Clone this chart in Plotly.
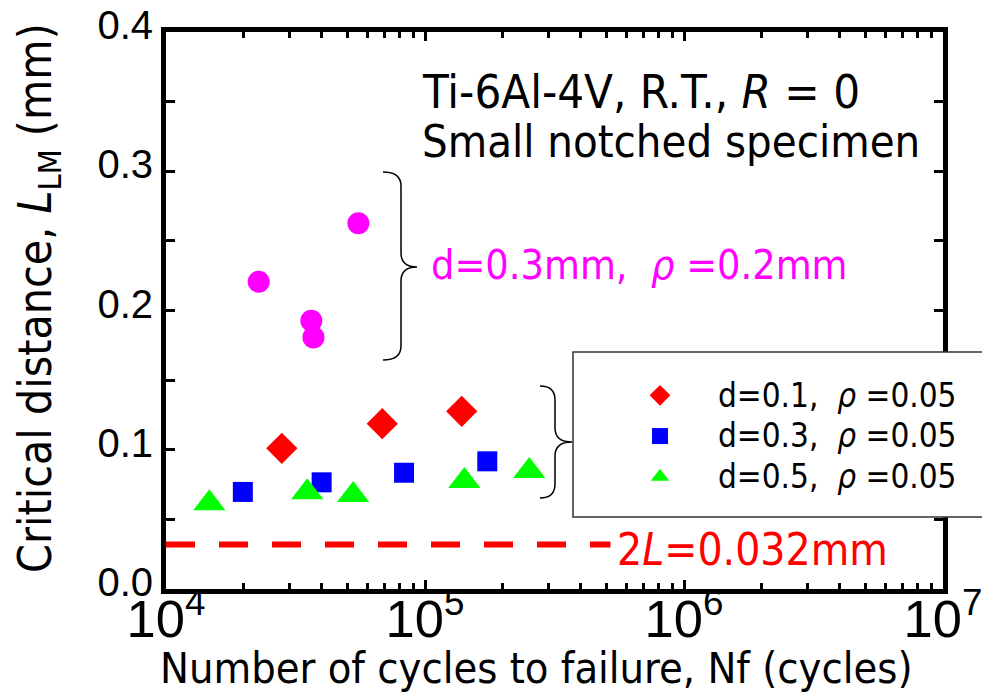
import plotly.graph_objects as go

# ---------------- data ----------------
N_d01 = [28000, 68400, 138600]
L_d01 = [0.101, 0.1187, 0.1276]

N_d03 = [19800, 39900, 83000, 174000]
L_d03 = [0.0697, 0.0766, 0.0835, 0.0917]

N_d05 = [14700, 35100, 52800, 141900, 252700]
L_d05 = [0.0615, 0.0694, 0.0675, 0.0776, 0.0847]

N_rho02 = [22800, 36400, 37100, 55300]
L_rho02 = [0.2207, 0.1927, 0.1807, 0.2626]

N_2L = [1e4, 5.2e5]
L_2L = [0.032, 0.032]

legend_names = ["d=0.1,\u00a0\u00a0<i>ρ</i>\u00a0=0.05",
                "d=0.3,\u00a0\u00a0<i>ρ</i>\u00a0=0.05",
                "d=0.5,\u00a0\u00a0<i>ρ</i>\u00a0=0.05"]

W, H = 982, 694
ML, MR, MT, MB = 166, 39, 32, 105
PW, PH = W - ML - MR, H - MT - MB

def px(x):
    return (x - ML) / PW

def py(y):
    return (H - MB - y) / PH

FONT = "DejaVu Sans Condensed, Liberation Sans Narrow, sans-serif"
REG = "Liberation Sans, Arial, sans-serif"

fig = go.Figure()

fig.add_trace(go.Scatter(x=N_2L, y=L_2L, mode="lines", showlegend=False,
                         line=dict(color="#ff0000", width=6, dash="29px,24px")))

fig.add_trace(go.Scatter(x=N_rho02, y=L_rho02, mode="markers", showlegend=False,
                         marker=dict(symbol="circle", size=22, color="#ff00ff", line=dict(width=0))))

fig.add_trace(go.Scatter(x=N_d01, y=L_d01, mode="markers", name=legend_names[0],
                         marker=dict(symbol="diamond", size=24, color="#ff0000", line=dict(width=0))))
fig.add_trace(go.Scatter(x=N_d03, y=L_d03, mode="markers", name=legend_names[1],
                         marker=dict(symbol="square", size=20, color="#0000ff", line=dict(width=0))))
fig.add_trace(go.Scatter(x=N_d05, y=L_d05, mode="markers", name=legend_names[2],
                         marker=dict(symbol="triangle-up", size=28, color="#00ff00", line=dict(width=0))))

def brace(x0, xs, xt, ytop, ymid, ybot, r=14):
    pts = [
        f"M {px(x0)},{py(ytop)}",
        f"Q {px(xs)},{py(ytop)} {px(xs)},{py(ytop + r)}",
        f"L {px(xs)},{py(ymid - r)}",
        f"Q {px(xs)},{py(ymid)} {px(xt)},{py(ymid)}",
        f"Q {px(xs)},{py(ymid)} {px(xs)},{py(ymid + r)}",
        f"L {px(xs)},{py(ybot - r)}",
        f"Q {px(xs)},{py(ybot)} {px(x0)},{py(ybot)}",
    ]
    return " ".join(pts)

shapes = [
    dict(type="path", xref="paper", yref="paper", path=brace(383, 401, 417, 172, 267, 360),
         line=dict(color="black", width=1.5)),
    dict(type="path", xref="paper", yref="paper", path=brace(540, 555, 572, 386, 442, 498),
         line=dict(color="black", width=1.5)),
    dict(type="rect", xref="paper", yref="paper", x0=px(573), x1=px(995), y0=py(352), y1=py(517),
         fillcolor="white", line=dict(color="#333333", width=1.5), layer="above"),
]

annotations = [
    dict(xref="paper", yref="paper", x=px(420), y=py(92), xanchor="left", yanchor="middle",
         text="Ti-6Al-4V, R.T., <i>R</i> = 0", showarrow=False,
         font=dict(family=FONT, size=47, color="black")),
    dict(xref="paper", yref="paper", x=px(420), y=py(141), xanchor="left", yanchor="middle",
         text="Small notched specimen", showarrow=False,
         font=dict(family=FONT, size=45, color="black")),
    dict(xref="paper", yref="paper", x=px(429), y=py(265), xanchor="left", yanchor="middle",
         text="d=0.3mm,\u00a0\u00a0<i>ρ</i>\u00a0=0.2mm", showarrow=False,
         font=dict(family=FONT, size=41, color="#ff00ff")),
    dict(xref="paper", yref="paper", x=px(615), y=py(549), xanchor="left", yanchor="middle",
         text="2<i>L</i>=0.032mm", showarrow=False,
         font=dict(family=FONT, size=44, color="#ff0000")),
    # axis titles
    dict(xref="paper", yref="paper", x=px(536), y=py(668), xanchor="center", yanchor="middle",
         text="Number of cycles to failure, Nf (cycles)", showarrow=False,
         font=dict(family=FONT, size=43, color="black")),
    dict(xref="paper", yref="paper", x=px(38), y=py(298), xanchor="center", yanchor="middle",
         text="Critical distance, <i>L</i><sub>LM</sub> (mm)", showarrow=False, textangle=-90,
         font=dict(family=FONT, size=46, color="black")),
]

legend_labels_font = 33

fig.update_layout(
    width=W, height=H,
    margin=dict(l=ML, r=MR, t=MT, b=MB, autoexpand=False),
    paper_bgcolor="white", plot_bgcolor="white",
    shapes=shapes, annotations=annotations,
    legend=dict(x=px(602), y=py(370), xanchor="left", yanchor="top",
                bgcolor="rgba(0,0,0,0)", borderwidth=0, itemwidth=106,
                font=dict(family=FONT, size=29, color="black"),
                tracegroupgap=0),
    xaxis=dict(type="log", range=[4, 7], dtick=1, exponentformat="power",
               showgrid=False, zeroline=False,
               showline=True, linecolor="black", linewidth=5, mirror="allticks",
               ticks="inside", ticklen=9, tickwidth=3, tickcolor="black",
               minor=dict(ticks="inside", ticklen=6, tickwidth=3, tickcolor="black", dtick="D1", showgrid=False),
               tickfont=dict(family=REG, size=42, color="black"),
               ticklabeloverflow="allow", ticklabelstandoff=-18,
               automargin=False),
    yaxis=dict(range=[0, 0.4], dtick=0.1, tickformat=".1f",
               showgrid=False, zeroline=False,
               showline=True, linecolor="black", linewidth=5, mirror="allticks",
               ticks="inside", ticklen=9, tickwidth=3, tickcolor="black",
               minor=dict(ticks="inside", ticklen=9, tickwidth=3, tickcolor="black", dtick=0.05, showgrid=False),
               tickfont=dict(family=REG, size=40, color="black"),
               ticklabelshift=-7,
               automargin=False),
)

for tr in fig.data:
    if tr.name in legend_names:
        tr.name = f'<span style="font-size:{legend_labels_font}px">{tr.name}</span>'

fig.write_html("out.html", config={"displayModeBar": False},
               post_script="document.body.style.margin='0';")
